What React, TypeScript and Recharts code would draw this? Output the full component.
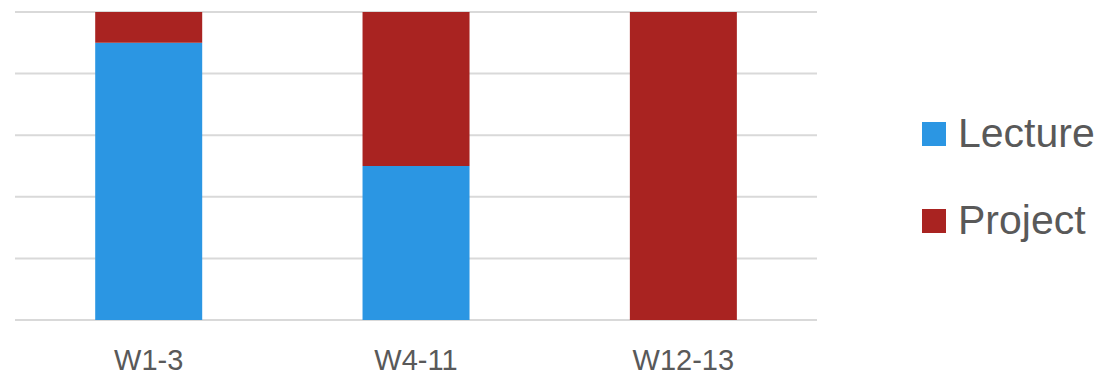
import { BarChart, Bar, XAxis, YAxis, CartesianGrid } from "recharts";

const weeks = ["W1-3", "W4-11", "W12-13"];
const lecture = [0.9, 0.5, 0];
const project = [0.1, 0.5, 1];
const yTicks = [0, 0.2, 0.4, 0.6, 0.8, 1];

const BLUE = "#2b96e3";
const RED = "#a92321";
const TEXT = "#595959";

const rows = weeks.map((w, i) => ({ week: w, lecture: lecture[i], project: project[i] }));

const legendItems = [
  { name: "Lecture", color: BLUE },
  { name: "Project", color: RED },
];

function SideLegend() {
  return (
    <div style={{ position: "absolute", left: 922, top: 90, width: 177 }}>
      {legendItems.map((it) => (
        <div key={it.name} style={{ display: "flex", alignItems: "center", height: 87 }}>
          <span style={{ width: 24, height: 24, background: it.color, display: "inline-block", marginRight: 12 }} />
          <span style={{ fontSize: 41, color: TEXT, lineHeight: 1 }}>{it.name}</span>
        </div>
      ))}
    </div>
  );
}

export default function App() {
  return (
    <div style={{ position: "absolute", left: 0, top: 0, width: 1099, height: 372, fontFamily: "'Liberation Sans', Arial, sans-serif" }}>
      <BarChart
        width={1099}
        height={372}
        data={rows}
        margin={{ top: 12, right: 282, bottom: 0, left: 15 }}
        barCategoryGap="30%"
      >
        <CartesianGrid stroke="#d9d9d9" strokeWidth={2} vertical={false} />
        <XAxis
          dataKey="week"
          height={52}
          axisLine={false}
          tickLine={false}
          tickSize={0}
          tickMargin={29}
          tick={{ fontSize: 29, fill: TEXT }}
        />
        <YAxis hide domain={[0, 1]} ticks={yTicks} />
        <Bar dataKey="lecture" name="Lecture" stackId="a" fill={BLUE} isAnimationActive={false} />
        <Bar dataKey="project" name="Project" stackId="a" fill={RED} isAnimationActive={false} />
      </BarChart>
      <SideLegend />
    </div>
  );
}
